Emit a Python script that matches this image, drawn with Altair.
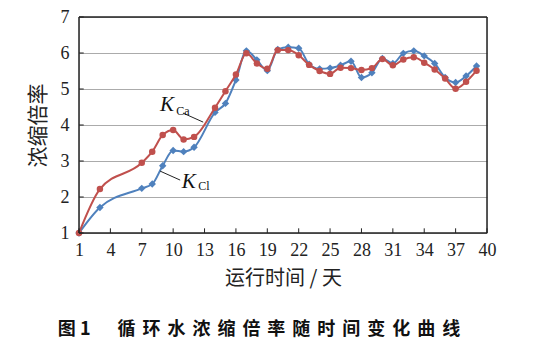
import altair as alt
import pandas as pd

days = [1, 3, 7, 8, 9, 10, 11, 12, 14, 15] + list(range(16, 40))
k_ca = [1.0, 2.22, 2.95, 3.26, 3.72, 3.86, 3.60, 3.67, 4.48, 4.94,
        5.40, 5.99, 5.71, 5.56, 6.08, 6.08, 5.94, 5.67, 5.50, 5.42, 5.59, 5.58,
        5.53, 5.58, 5.83, 5.66, 5.82, 5.88, 5.73, 5.54, 5.29, 5.01, 5.20, 5.51]
k_cl = [1.0, 1.71, 2.24, 2.36, 2.87, 3.29, 3.26, 3.38, 4.35, 4.60,
        5.25, 6.06, 5.81, 5.51, 6.10, 6.16, 6.13, 5.69, 5.56, 5.58, 5.66, 5.77,
        5.32, 5.45, 5.85, 5.71, 5.99, 6.06, 5.92, 5.71, 5.32, 5.18, 5.36, 5.64]
x_ticks = list(range(1, 41, 3))
y_ticks = [1, 2, 3, 4, 5, 6, 7]

RED = "#C0504D"
BLUE = "#4F81BD"
SERIF = "Liberation Serif, Times New Roman, serif"
CJK = "Noto Sans CJK SC"

df_ca = pd.DataFrame({"day": days, "k": k_ca})
df_cl = pd.DataFrame({"day": days, "k": k_cl})

xs = alt.Scale(domain=[1, 40], nice=False, zero=False)
ys = alt.Scale(domain=[1, 7], nice=False, zero=False)

xax = alt.Axis(values=x_ticks, grid=False, ticks=False, domain=False,
               labelFont=SERIF, labelFontSize=18, labelColor="#222", labelOverlap=False,
               labelFlush=False, labelPadding=8,
               title="运行时间 / 天", titleFont=CJK, titleFontSize=20, titleFontWeight="normal",
               titleColor="#222", titlePadding=9)
yax = alt.Axis(values=y_ticks, grid=True, gridColor="#ababab", gridWidth=1, ticks=False, domain=False,
               labelFont=SERIF, labelFontSize=18, labelColor="#222", labelOverlap=False,
               labelFlush=False, labelPadding=10,
               title="浓缩倍率", titleFont=CJK, titleFontSize=21, titleFontWeight="normal",
               titleColor="#222", titlePadding=12)

def X(f):
    return alt.X(f, type="quantitative", scale=xs, axis=xax)

def Y(f):
    return alt.Y(f, type="quantitative", scale=ys, axis=yax)

# plot frame (left, right, bottom, top edges) in data units
frame_df = pd.DataFrame({"x1": [1, 40, 1, 1], "x2": [1, 40, 40, 40],
                         "y1": [1, 1, 1, 7], "y2": [7, 7, 1, 7]})
frame = alt.Chart(frame_df).mark_rule(color="#222", strokeWidth=1.5).encode(
    x=X("x1"), y=Y("y1"), x2="x2:Q", y2="y2:Q")

line_cl = alt.Chart(df_cl).mark_line(color=BLUE, strokeWidth=2, interpolate="monotone").encode(
    x=X("day"), y=Y("k"))
pts_cl = alt.Chart(df_cl).mark_point(color=BLUE, filled=True, opacity=1, shape="diamond", size=55).encode(
    x=X("day"), y=Y("k"))
line_ca = alt.Chart(df_ca).mark_line(color=RED, strokeWidth=2, interpolate="monotone").encode(
    x=X("day"), y=Y("k"))
pts_ca = alt.Chart(df_ca).mark_point(color=RED, filled=True, opacity=1, shape="circle", size=42).encode(
    x=X("day"), y=Y("k"))

xt_df = pd.DataFrame({"day": x_ticks, "y1": [1.0] * len(x_ticks), "y2": [1.13] * len(x_ticks)})
xt = alt.Chart(xt_df).mark_rule(color="#222", strokeWidth=1).encode(
    x=X("day"), y=Y("y1"), y2="y2:Q")
yt_df = pd.DataFrame({"k": y_ticks, "x1": [1.0] * len(y_ticks), "x2": [1.45] * len(y_ticks)})
yt = alt.Chart(yt_df).mark_rule(color="#222", strokeWidth=1).encode(
    y=Y("k"), x=X("x1"), x2="x2:Q")

lead = pd.DataFrame({"x1": [10.95, 8.75], "y1": [4.33, 2.72], "x2": [12.87, 10.67], "y2": [4.08, 2.47]})
leaders = alt.Chart(lead).mark_rule(color="#222", strokeWidth=1).encode(
    x=X("x1"), y=Y("y1"), x2="x2:Q", y2="y2:Q")

lab_k = pd.DataFrame({"x": [8.75, 10.83], "y": [4.56, 2.43], "t": ["K", "K"]})
lab_s = pd.DataFrame({"x": [10.3, 12.4], "y": [4.40, 2.30], "t": ["Ca", "Cl"]})
k_text = alt.Chart(lab_k).mark_text(font=SERIF, fontSize=21, fontStyle="italic", align="left",
                                     baseline="middle", color="#111").encode(
    x=X("x"), y=Y("y"), text="t:N")
s_text = alt.Chart(lab_s).mark_text(font=SERIF, fontSize=12, align="left",
                                     baseline="middle", color="#111").encode(
    x=X("x"), y=Y("y"), text="t:N")

cap_str = "图 1" + "\u3000\u2002" + "\u2009\u200a\u200a\u200a".join("循环水浓缩倍率随时间变化曲线")
caption = alt.Chart(pd.DataFrame({"t": [cap_str]})).mark_text(
    font=CJK, fontSize=18, fontWeight="bold", align="center", baseline="middle", color="#111"
).encode(x=alt.value(180), y=alt.value(313), text="t:N")

chart = alt.layer(line_cl, pts_cl, line_ca, pts_ca, frame, xt, yt, leaders, k_text, s_text, caption).properties(
    width=408, height=216,
    autosize=alt.AutoSizeParams(type="none"),
    padding={"left": 71, "top": 9, "right": 40, "bottom": 110},
    background="white",
)

chart.save("out.html", embed_options={"renderer": "svg", "actions": False})
